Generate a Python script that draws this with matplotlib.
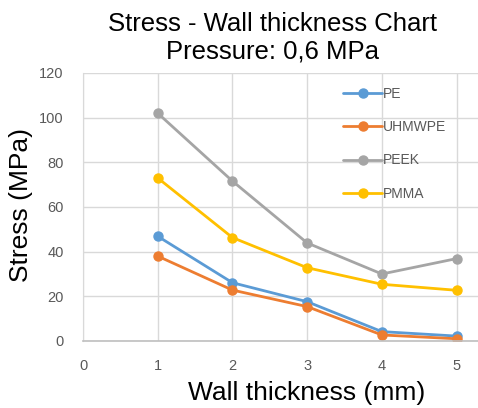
import matplotlib
matplotlib.use("Agg")
import matplotlib.pyplot as plt

thickness = [1, 2, 3, 4, 5]
pe = [46.9, 26.1, 17.6, 4.2, 2.2]
uhmwpe = [38.0, 22.8, 15.4, 2.7, 1.0]
peek = [102.0, 71.6, 43.9, 30.0, 36.9]
pmma = [73.0, 46.3, 32.8, 25.4, 22.7]

series = [
    ("PE", pe, "#5B9BD5"),
    ("UHMWPE", uhmwpe, "#ED7D31"),
    ("PEEK", peek, "#A5A5A5"),
    ("PMMA", pmma, "#FFC000"),
]

plt.rcParams["font.family"] = ["Liberation Sans", "DejaVu Sans"]

W, H = 478, 408
fig = plt.figure(figsize=(W / 100, H / 100), dpi=100)
ax = fig.add_axes([83 / W, 1 - 341 / H, 1 - 83 / W + 0.01, (341 - 73) / H])

for name, vals, col in series:
    ax.plot(thickness, vals, color=col, lw=2.0, marker="o", ms=6.5, label=name,
            solid_capstyle="round")

ax.set_xlim(0, 5.35)
ax.set_ylim(0, 120)
ax.set_xticks([0, 1, 2, 3, 4, 5])
ax.set_yticks(range(0, 121, 20))
ax.grid(True, color="#d9d9d9", lw=1.0)
ax.set_axisbelow(True)
for s in ["top", "right"]:
    ax.spines[s].set_visible(False)
ax.spines["left"].set_color("#d9d9d9")
ax.spines["bottom"].set_color("#bfbfbf")
ax.spines["bottom"].set_linewidth(1.2)
ax.tick_params(length=0, colors="#595959", labelsize=10.5)
ax.tick_params(axis="y", pad=14)
ax.tick_params(axis="x", pad=13)

fig.text(272 / W, 1 - 24 / H, "Stress - Wall thickness Chart", ha="center", va="center",
         fontsize=18.5, color="#000000")
fig.text(272 / W, 1 - 51 / H, "Pressure: 0,6 MPa", ha="center", va="center",
         fontsize=18.5, color="#000000")
fig.text(307 / W, 1 - 393 / H, "Wall thickness (mm)", ha="center", va="center",
         fontsize=19, color="#000000")
fig.text(21 / W, 1 - 205 / H, "Stress (MPa)", ha="center", va="center",
         rotation=90, fontsize=19, color="#000000")

leg = ax.legend(loc="upper left", bbox_to_anchor=((338 - 83) / 400, 0.968), frameon=False,
                fontsize=10, labelspacing=1.38, handlelength=2.75, handletextpad=0.1,
                borderaxespad=0)
for t in leg.get_texts():
    t.set_color("#595959")

fig.savefig("out.png", dpi=100)
